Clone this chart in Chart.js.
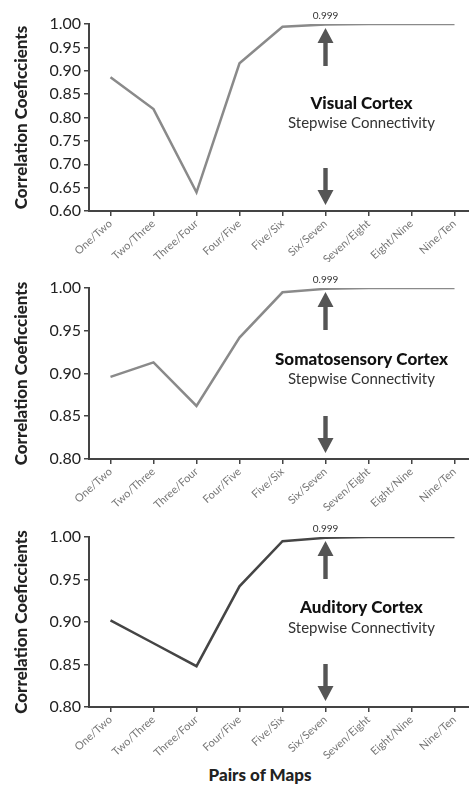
<!DOCTYPE html>
<html>
<head>
<meta charset="utf-8">
<script src="https://cdn.jsdelivr.net/npm/chart.js@4/dist/chart.umd.min.js"></script>
<style>
  html, body { margin: 0; padding: 0; background: #fff; overflow: hidden; }
  body { width: 469px; height: 787px; position: relative; }
  canvas { position: absolute; left: 0; }
  #xtitle {
    position: absolute; left: 160px; width: 200px; top: 764px;
    text-align: center; font: 900 17px Lato, sans-serif; color: #222;
  }
</style>
</head>
<body>
<canvas id="visual" width="476" height="262" style="top:0"></canvas>
<canvas id="somato" width="476" height="250" style="top:265px"></canvas>
<canvas id="auditory" width="476" height="245" style="top:515px"></canvas>
<div id="xtitle">Pairs of Maps</div>
<script>
const pairLabels = ["One/Two", "Two/Three", "Three/Four", "Four/Five", "Five/Six",
  "Six/Seven", "Seven/Eight", "Eight/Nine", "Nine/Ten"];

const visualValues = [0.886, 0.818, 0.640, 0.916, 0.994, 0.999, 1.0, 1.0, 1.0];
const somatoValues = [0.896, 0.913, 0.862, 0.942, 0.995, 0.999, 1.0, 1.0, 1.0];
const auditoryValues = [0.902, 0.875, 0.848, 0.942, 0.995, 0.999, 1.0, 1.0, 1.0];

const peakIndex = 5;
const peakLabel = "0.999";

// arrow + text annotations
function drawArrow(ctx, x, tipY, len, dir) {
  const head = 15, headW = 8, shaft = 2.2;
  const baseY = tipY + dir * head;
  const endY = tipY + dir * len;
  ctx.beginPath();
  ctx.moveTo(x, tipY);
  ctx.lineTo(x + headW, baseY);
  ctx.lineTo(x + shaft, baseY);
  ctx.lineTo(x + shaft, endY);
  ctx.lineTo(x - shaft, endY);
  ctx.lineTo(x - shaft, baseY);
  ctx.lineTo(x - headW, baseY);
  ctx.closePath();
  ctx.fill();
}

const annotPlugin = {
  id: "annot",
  afterDatasetsDraw(chart, args, opts) {
    const { ctx, chartArea: a, scales: { x, y } } = chart;
    const px = x.getPixelForValue(peakIndex);
    const py = y.getPixelForValue(1.0);
    ctx.save();
    ctx.fillStyle = "#333";
    ctx.font = "10px Lato, sans-serif";
    ctx.textAlign = "center";
    ctx.textBaseline = "bottom";
    ctx.fillText(peakLabel, px, py - 3);

    ctx.fillStyle = "#555";
    drawArrow(ctx, px, py + 4, 38, 1);
    drawArrow(ctx, px, a.bottom - 6, 37, -1);

    const cy = (a.top + a.bottom) / 2 - 4;
    const tx = px + 36;
    ctx.fillStyle = "#111";
    ctx.textBaseline = "middle";
    ctx.font = "900 17px Lato, sans-serif";
    ctx.fillText(opts.title, tx, cy - 10);
    ctx.fillStyle = "#333";
    ctx.font = "15px Lato, sans-serif";
    ctx.fillText("Stepwise Connectivity", tx, cy + 10);
    ctx.restore();
  }
};

function makeChart(id, values, color, yMin, padTop, xHeight, title) {
  const ctx = document.getElementById(id).getContext("2d");
  return new Chart(ctx, {
    type: "line",
    data: {
      labels: pairLabels,
      datasets: [{
        data: values,
        borderColor: color,
        borderWidth: 2.5,
        pointRadius: 0,
        tension: 0,
        fill: false
      }]
    },
    options: {
      responsive: false,
      animation: false,
      devicePixelRatio: 1,
      layout: { padding: { top: padTop, left: 0, right: 0, bottom: 0 } },
      plugins: {
        legend: { display: false },
        tooltip: { enabled: false },
        annot: { title: title }
      },
      scales: {
        x: {
          offset: true,
          afterFit(scale) { scale.height = xHeight; },
          border: { color: "#444", width: 2 },
          grid: { drawOnChartArea: false, tickLength: 5, color: "#444", lineWidth: 1.5 },
          ticks: {
            minRotation: 42, maxRotation: 42, padding: 1,
            color: "#777",
            font: { family: "Lato", size: 11 }
          }
        },
        y: {
          min: yMin,
          max: 1.0,
          afterFit(scale) { scale.width = 89; },
          border: { color: "#444", width: 2 },
          grid: { drawOnChartArea: false, tickLength: 5, color: "#444", lineWidth: 1.5 },
          ticks: {
            stepSize: 0.05,
            padding: 3,
            color: "#222",
            font: { family: "Lato", size: 16 },
            callback: (v) => v.toFixed(2)
          },
          title: {
            display: true,
            text: "Correlation Coeficcients",
            color: "#222",
            font: { family: "Lato", size: 17, weight: "900" },
            padding: { top: 11, bottom: 0 }
          }
        }
      }
    },
    plugins: [annotPlugin]
  });
}

makeChart("visual", visualValues, "#8a8a8a", 0.6, 24, 51, "Visual Cortex");
makeChart("somato", somatoValues, "#8a8a8a", 0.8, 23, 56, "Somatosensory Cortex");
makeChart("auditory", auditoryValues, "#454545", 0.8, 22, 53, "Auditory Cortex");
</script>
</body>
</html>
